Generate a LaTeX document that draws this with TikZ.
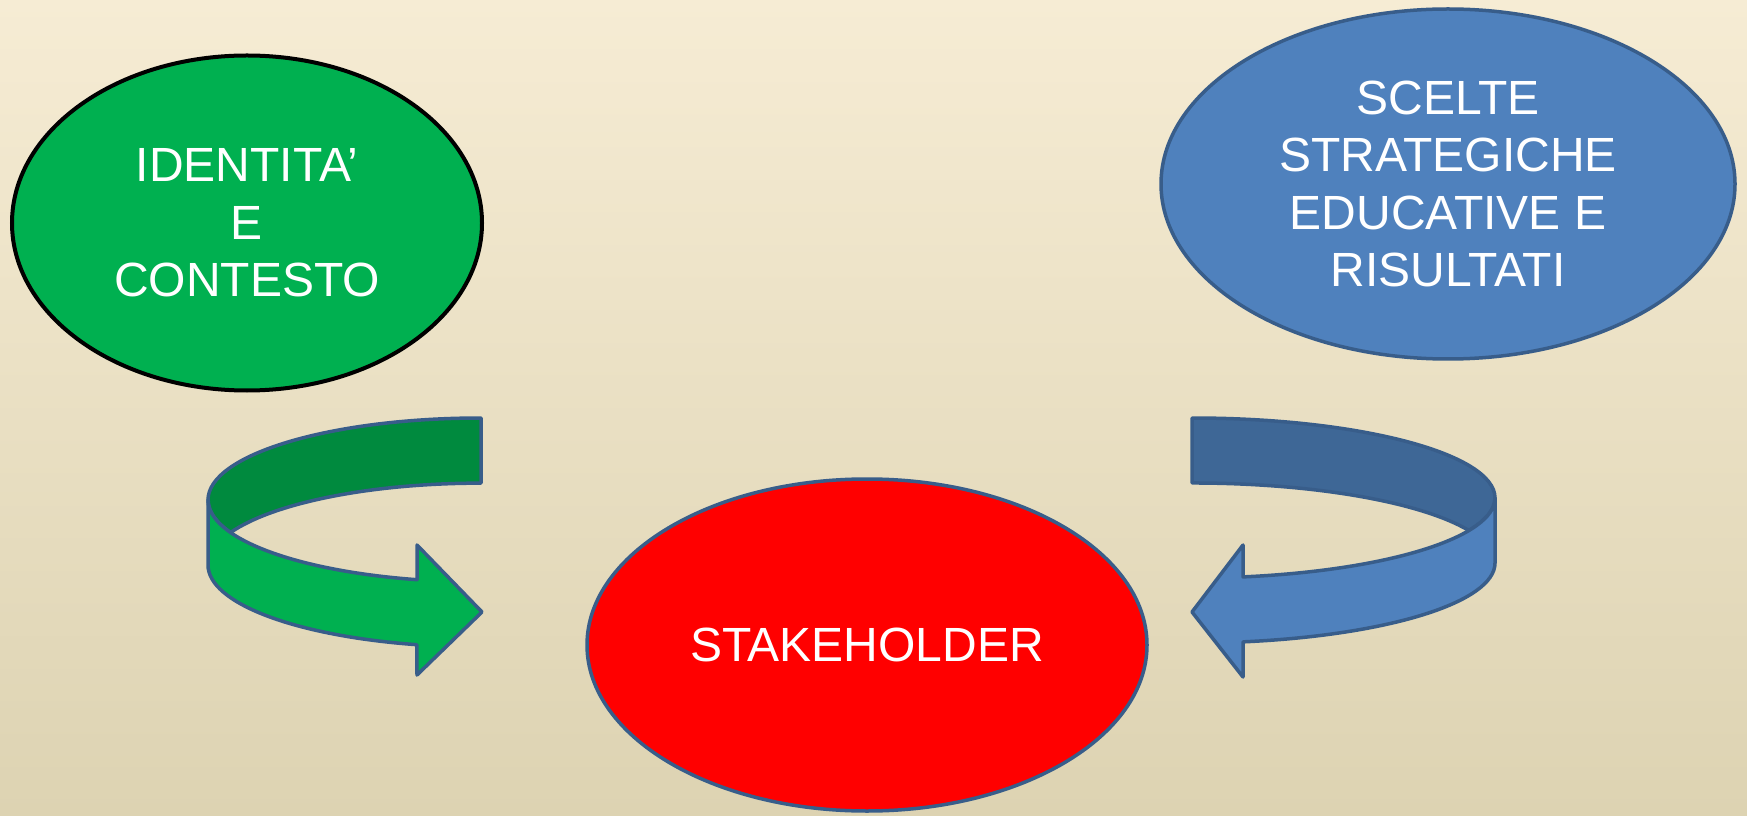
\documentclass[tikz,border=0pt]{standalone}
\usepackage{fontspec}
\setmainfont{Liberation Sans}
\usetikzlibrary{shapes.geometric}

\definecolor{bgtop}{HTML}{F6ECD4}
\definecolor{bgbot}{HTML}{DDD3B2}
\definecolor{grn}{HTML}{00B050}
\definecolor{grndark}{HTML}{008A3E}
\definecolor{blu}{HTML}{4F81BD}
\definecolor{bludark}{HTML}{3E6796}
\definecolor{rim}{HTML}{385D8A}

\begin{document}
\begin{tikzpicture}[x=1pt,y=1pt,
    bubble/.style={ellipse, draw=rim, line width=3.5pt, inner sep=0pt, text=white,
      align=center, font=\fontsize{48}{57.5}\selectfont},
    band/.style={draw=rim, line width=3.5pt, line join=round}]

    % Background
    \useasboundingbox (0,0) rectangle (1747,815);
    \shade [top color=bgtop, bottom color=bgbot] (0,0) rectangle (1747,815);

    % The three ellipses
    \node [bubble, fill=grn, draw=black, line width=4pt,
           minimum width=470pt, minimum height=335pt] (ident) at (247,592)
          {IDENTITA'\\E\\CONTESTO};
    \node [bubble, fill=blu, minimum width=574pt, minimum height=350pt] (scelte) at (1448,631)
          {SCELTE\\STRATEGICHE\\EDUCATIVE E\\RISULTATI};
    \node [bubble, fill=red, minimum width=560pt, minimum height=332pt] (stake) at (867,170)
          {STAKEHOLDER};

    % Green arrow: back half, then front half with the head
    \draw [band, fill=grndark] (481,397)
      arc[start angle=90, end angle=180, x radius=273, y radius=82]
      arc[start angle=180, end angle=203.4, x radius=273, y radius=82]
      arc[start angle=156.6, end angle=90, x radius=273, y radius=82] -- cycle;
    \draw [band, fill=grn] (208,315) -- (208,250)
      arc[start angle=180, end angle=256.4, x radius=273, y radius=82]
      -- (417,140) -- (482,203) -- (417,270) -- (417,235.3)
      arc[start angle=256.4, end angle=180, x radius=273, y radius=82] -- cycle;

    % Blue arrow, the same turned round
    \draw [band, fill=bludark] (1192,397)
      arc[start angle=90, end angle=0, x radius=303, y radius=80]
      arc[start angle=0, end angle=-23.96, x radius=303, y radius=80]
      arc[start angle=23.96, end angle=90, x radius=303, y radius=80] -- cycle;
    \draw [band, fill=blu] (1495,317) -- (1495,252)
      arc[start angle=0, end angle=-80.3, x radius=303, y radius=80]
      -- (1243,138) -- (1192,203) -- (1243,270) -- (1243,238.1)
      arc[start angle=-80.3, end angle=0, x radius=303, y radius=80] -- cycle;

  \end{tikzpicture}
\end{document}
